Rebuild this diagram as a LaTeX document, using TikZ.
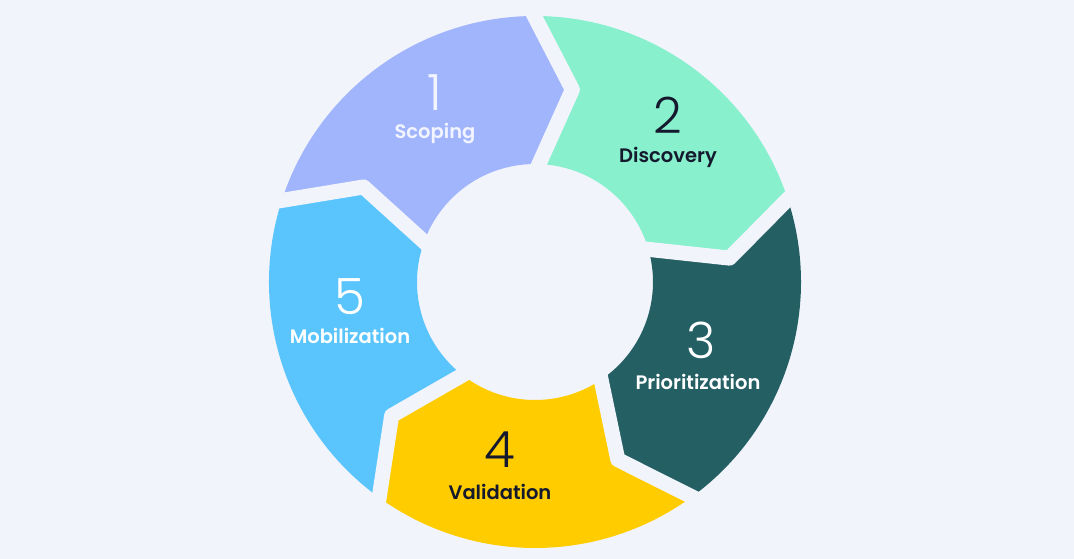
\documentclass[tikz,border=0pt]{standalone}
\usepackage{fontspec}
\setmainfont{Poppins}
\newfontfamily\labfont{Poppins SemiBold}
\newfontfamily\numfont{Poppins Light}
\definecolor{bgcol}{HTML}{F2F4FC}
\definecolor{scopecol}{HTML}{A1B5FD}
\definecolor{disccol}{HTML}{88F0CC}
\definecolor{priocol}{HTML}{245F64}
\definecolor{validcol}{HTML}{FFCC00}
\definecolor{mobilcol}{HTML}{5AC5FD}
\definecolor{darktext}{HTML}{14192E}
\definecolor{lighttext}{HTML}{F2F4FF}
\tikzset{
  numtext/.style={font=\numfont\fontsize{50}{50}\selectfont},
  labtext/.style={font=\labfont\fontsize{19.5}{20}\selectfont},
}
\begin{document}
\begin{tikzpicture}[x=1pt,y=1pt]
  \fill[bgcol] (-535,-277) rectangle (539,282);
  \useasboundingbox (-535,-277) rectangle (539,282);
  % ring pieces, tail notch -> head tip
  \foreach \t/\col in {163/scopecol,91/disccol,19/priocol,-53/validcol,-125/mobilcol}
    \fill[\col] (\t:266) -- (\t-12:196) -- (\t:118)
      arc[start angle=\t, end angle=\t-72, radius=118]
      -- (\t-84:196) -- (\t-72:266)
      arc[start angle=\t-72, end angle=\t, radius=266] -- cycle;
  % gaps between the pieces
  \foreach \b in {163,91,19,-53,-125}
    \draw[bgcol, line width=15, line join=round] (\b:274) -- (\b-12:196) -- (\b:105);
  \node[numtext, lighttext] (num1) at (-100,189) {1};
  \node[labtext, lighttext] (lab1) at (-100,148) {Scoping};
  \node[numtext, darktext] (num2) at (133,167) {2};
  \node[labtext, darktext] (lab2) at (133,125) {Discovery};
  \node[numtext, white] (num3) at (166,-58) {3};
  \node[labtext, white] (lab3) at (163,-100) {Prioritization};
  \node[numtext, darktext] (num4) at (-35,-168) {4};
  \node[labtext, darktext] (lab4) at (-35,-210) {Validation};
  \node[numtext, white] (num5) at (-185,-15) {5};
  \node[labtext, white] (lab5) at (-185,-54) {Mobilization};
\end{tikzpicture}
\end{document}
